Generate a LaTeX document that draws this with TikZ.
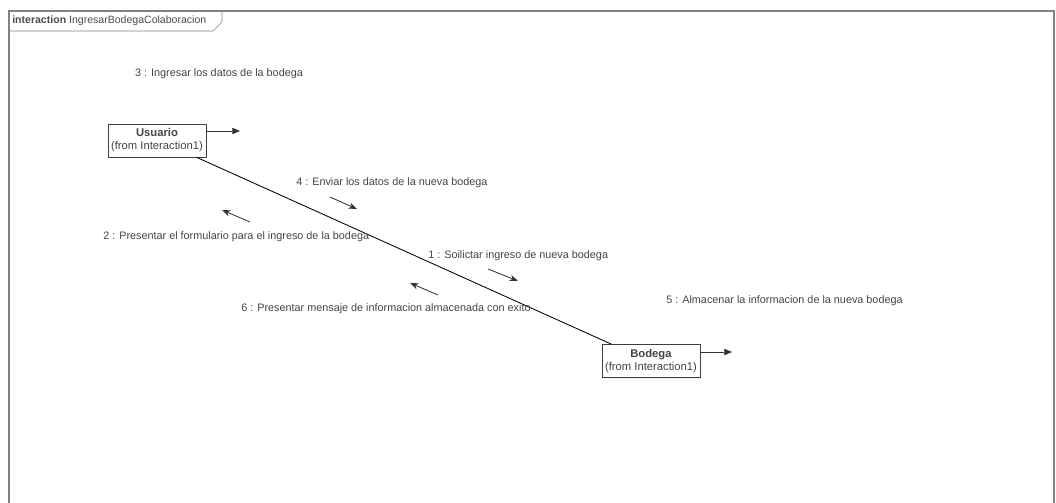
\documentclass[tikz,border=0pt]{standalone}
\usepackage{fontspec}
\setmainfont{Liberation Sans}
\usepackage{xcolor}
\usepackage{tikz}
\usetikzlibrary{arrows.meta,positioning,calc,shadows}
\definecolor{umltext}{RGB}{68,68,68}
\definecolor{umlframe}{RGB}{130,130,130}

\begin{document}
\begin{tikzpicture}[
      x=0.025cm, y=-0.025cm,
      >={Triangle[length=5.5pt,width=4.5pt]},
      object/.style={rectangle, draw=black!75, fill=white, minimum width=2.45cm,
        minimum height=0.82cm, align=center, inner sep=1pt,
        font=\fontsize{8}{9.2}\selectfont, text=umltext,
        drop shadow={shadow xshift=1pt, shadow yshift=-1pt, fill=black!12}},
      msg/.style={font=\fontsize{7.7}{9}\selectfont, text=umltext, inner sep=0pt},
      msg arrow/.style={-{Stealth[length=6pt,width=4.5pt]}, black!80, semithick},
  ]
      \useasboundingbox (0,0) rectangle (1056,503);

      % Marco de la interaccion
      \draw[umlframe, thick] (9,520) -- (9,11) -- (1054,11) -- (1054,520);
      \draw[umlframe] (9,31) -- (213,31) -- (222,22) -- (222,11);
      \node[msg, anchor=west, text=black!70, font=\fontsize{7.5}{9}\selectfont] (tag) at (12,21)
          {\textbf{interaction} IngresarBodegaColaboracion};

      % Objetos
      \node[object] (usuario) at (157,140.5) {\textbf{Usuario}\\(from Interaction1)};
      \node[object] (bodega) at (651,361) {\textbf{Bodega}\\(from Interaction1)};

      % Enlace entre objetos
      \path (usuario.south east) ++(-10,0) coordinate (ua)
          (bodega.north west) ++(10,0) coordinate (ba);
      \draw[black, semithick] (ua) -- (ba);

      % Flechas de auto-mensaje
      \coordinate (uself) at (240,131);
      \coordinate (bself) at (732,352);
      \draw[->, black!80, semithick] (usuario.east |- uself) -- (uself);
      \draw[->, black!80, semithick] (bodega.east |- bself) -- (bself);

      % Mensajes
      \node[msg] (m3) at (219,74) {3 : Ingresar los datos de la bodega};
      \node[msg, anchor=west] (m4) at (296,183) {4 : Enviar los datos de la nueva bodega};
      \node[msg, anchor=west] (m2) at (103,237) {2 : Presentar el formulario para el ingreso de la bodega};
      \node[msg, anchor=west] (m1) at (428,256) {1 : Soilictar ingreso de nueva bodega};
      \node[msg, anchor=west] (m6) at (241,309) {6 : Presentar mensaje de informacion almacenada con exito};
      \node[msg, anchor=west] (m5) at (666,301) {5 : Almacenar la informacion de la nueva bodega};

      % Flechas de mensaje
      \coordinate (a4s) at (330,197); \coordinate (a4e) at (357,209);
      \coordinate (a2s) at (250,222); \coordinate (a2e) at (222,210);
      \coordinate (a1s) at (488,269); \coordinate (a1e) at (518,281);
      \coordinate (a6s) at (438,295); \coordinate (a6e) at (410,283);
      \draw[msg arrow] (a4s) -- (a4e);
      \draw[msg arrow] (a2s) -- (a2e);
      \draw[msg arrow] (a1s) -- (a1e);
      \draw[msg arrow] (a6s) -- (a6e);

  \end{tikzpicture}
\end{document}
